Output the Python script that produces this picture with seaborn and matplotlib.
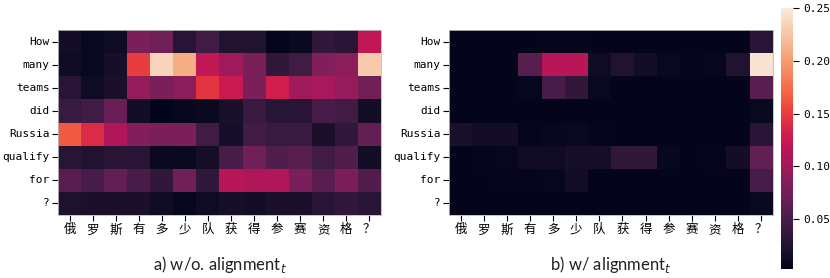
import numpy as np
import seaborn as sns
import matplotlib.pyplot as plt

# tokens
en_tokens = ["How", "many", "teams", "did", "Russia", "qualify", "for", "?"]
zh_tokens = ["俄", "罗", "斯", "有", "多", "少", "队", "获", "得", "参", "赛", "资", "格", "？"]

# attention weights
attn_without = [
    [0.015, 0.008, 0.012, 0.080, 0.075, 0.030, 0.045, 0.025, 0.025, 0.005, 0.010, 0.035, 0.030, 0.120],
    [0.012, 0.008, 0.018, 0.150, 0.235, 0.210, 0.120, 0.100, 0.080, 0.035, 0.045, 0.085, 0.090, 0.228],
    [0.030, 0.012, 0.020, 0.095, 0.080, 0.090, 0.145, 0.125, 0.080, 0.130, 0.100, 0.105, 0.095, 0.075],
    [0.040, 0.045, 0.070, 0.015, 0.003, 0.007, 0.010, 0.020, 0.040, 0.030, 0.030, 0.050, 0.045, 0.015],
    [0.165, 0.140, 0.110, 0.085, 0.080, 0.080, 0.045, 0.018, 0.045, 0.040, 0.040, 0.020, 0.035, 0.065],
    [0.030, 0.025, 0.030, 0.030, 0.010, 0.008, 0.018, 0.050, 0.075, 0.055, 0.060, 0.045, 0.055, 0.015],
    [0.060, 0.050, 0.065, 0.050, 0.035, 0.075, 0.035, 0.115, 0.110, 0.110, 0.080, 0.060, 0.080, 0.055],
    [0.022, 0.020, 0.020, 0.020, 0.012, 0.006, 0.012, 0.018, 0.015, 0.020, 0.020, 0.030, 0.035, 0.030],
]

attn_with = [
    [0.004, 0.004, 0.004, 0.004, 0.005, 0.005, 0.004, 0.004, 0.004, 0.004, 0.004, 0.004, 0.004, 0.030],
    [0.004, 0.004, 0.004, 0.060, 0.115, 0.115, 0.012, 0.025, 0.015, 0.008, 0.005, 0.006, 0.025, 0.245],
    [0.004, 0.004, 0.004, 0.006, 0.050, 0.035, 0.008, 0.004, 0.004, 0.004, 0.004, 0.004, 0.004, 0.060],
    [0.004, 0.004, 0.004, 0.004, 0.004, 0.004, 0.004, 0.004, 0.004, 0.004, 0.004, 0.004, 0.004, 0.008],
    [0.020, 0.015, 0.015, 0.005, 0.007, 0.008, 0.005, 0.004, 0.004, 0.004, 0.004, 0.004, 0.004, 0.030],
    [0.004, 0.005, 0.006, 0.013, 0.013, 0.018, 0.018, 0.035, 0.035, 0.007, 0.004, 0.005, 0.015, 0.065],
    [0.004, 0.004, 0.005, 0.005, 0.006, 0.015, 0.004, 0.004, 0.004, 0.004, 0.004, 0.004, 0.004, 0.050],
    [0.004, 0.004, 0.004, 0.004, 0.004, 0.004, 0.004, 0.004, 0.004, 0.004, 0.004, 0.004, 0.004, 0.008],
]

# monospace latin with CJK fallback, like the SimHei look of the original
tick_font = ["DejaVu Sans Mono", "Noto Sans CJK SC"]
plt.rcParams["font.family"] = tick_font

fig = plt.figure(figsize=(8.3, 2.78), dpi=100)
ax1 = fig.add_axes([0.0699, 0.2266, 0.389, 0.6655])
ax2 = fig.add_axes([0.541, 0.2266, 0.390, 0.6655])
cax = fig.add_axes([0.941, 0.0324, 0.0145, 0.939])

vmin, vmax = 0.003, 0.25

sns.heatmap(np.array(attn_without), ax=ax1, cmap="rocket", vmin=vmin, vmax=vmax,
            cbar=False, xticklabels=zh_tokens, yticklabels=en_tokens)
sns.heatmap(np.array(attn_with), ax=ax2, cmap="rocket", vmin=vmin, vmax=vmax,
            cbar_ax=cax, xticklabels=zh_tokens, yticklabels=en_tokens)

for ax in (ax1, ax2):
    ax.tick_params(axis="both", labelsize=8, length=4, width=0.8, pad=2)
    ax.set_yticklabels(en_tokens, rotation=0)
    ax.set_xticklabels(zh_tokens, rotation=0, fontsize=9)
    for sp in ax.spines.values():
        sp.set_visible(True)
        sp.set_color("#bbbbbb")
        sp.set_linewidth(0.6)

cax.tick_params(labelsize=8, length=4, width=0.8)
cax.set_yticks([0.05, 0.10, 0.15, 0.20, 0.25])
cax.set_yticklabels(["0.05", "0.10", "0.15", "0.20", "0.25"])

fig.text(0.265, 0.05, r"a) w/o. alignment$_t$", ha="center", va="center",
         fontsize=12, family=["Lato", "DejaVu Sans"], color="#222222")
fig.text(0.736, 0.05, r"b) w/ alignment$_t$", ha="center", va="center",
         fontsize=12, family=["Lato", "DejaVu Sans"], color="#222222")

plt.savefig("out.png", dpi=100)
